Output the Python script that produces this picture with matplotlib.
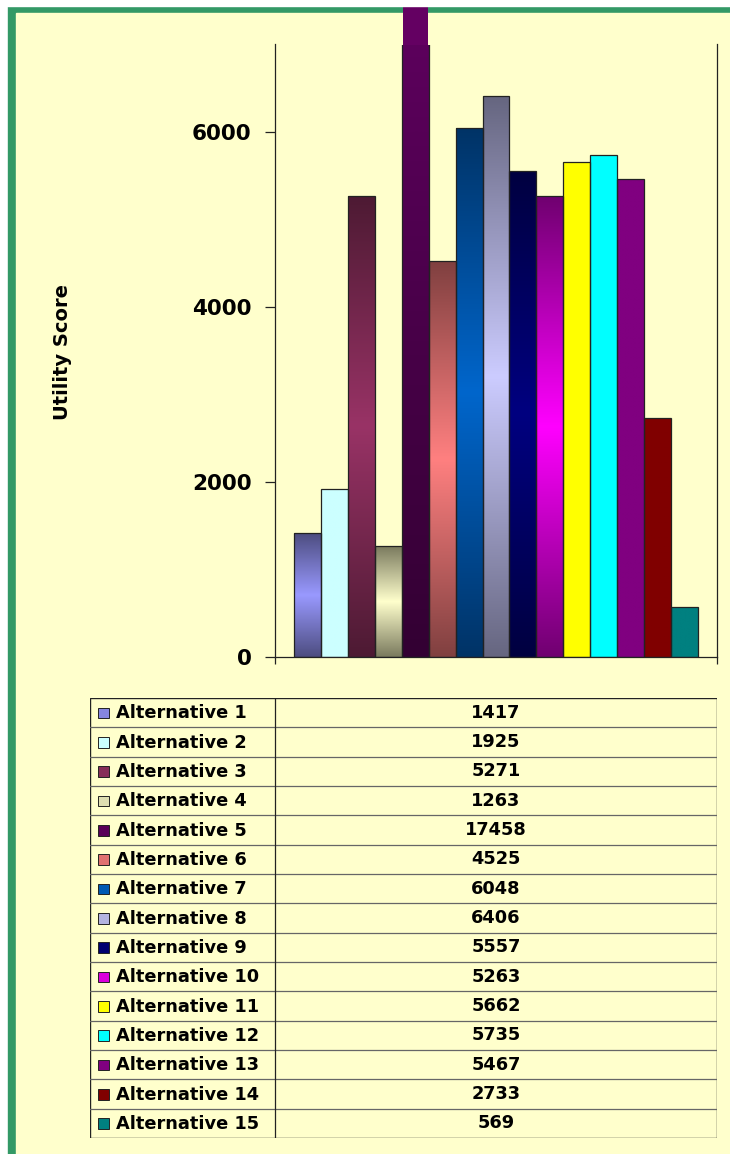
import numpy as np
import matplotlib
matplotlib.use("Agg")
import matplotlib.pyplot as plt
from matplotlib.colors import to_rgb
from matplotlib.patches import Rectangle

# ---- data ----
labels = [f"Alternative {i}" for i in range(1, 16)]
scores = [1417, 1925, 5271, 1263, 17458, 4525, 6048, 6406,
          5557, 5263, 5662, 5735, 5467, 2733, 569]
light_colors = ["#9999FF", "#CCFFFF", "#993366", "#FFFFCC", "#660066",
                "#FF8080", "#0066CC", "#CCCCFF", "#000080", "#FF00FF",
                "#FFFF00", "#00FFFF", "#800080", "#800000", "#008080"]
dark_colors = ["#4D4D80", "#CCFFFF", "#4D1A33", "#7A7A5E", "#330033",
               "#804040", "#003366", "#666680", "#000040", "#700070",
               "#FFFF00", "#00FFFF", "#800080", "#800000", "#008080"]
y_ticks = [0, 2000, 4000, 6000]
y_max = 7000

BG = "#FFFFCC"
GREEN = "#339966"
W, H = 730, 1154

plt.rcParams["font.family"] = ["DejaVu Sans"]
plt.rcParams["font.weight"] = "bold"

fig = plt.figure(figsize=(W / 100, H / 100), dpi=100, facecolor="white")


def px(x0, y0, x1, y1):
    # pixel box (top-left origin) -> figure fraction rect
    return [x0 / W, 1 - y1 / H, (x1 - x0) / W, (y1 - y0) / H]


# ---- frame: yellow panel with green left/top border ----
fig.patches.append(Rectangle((8 / W, 0), (W - 8) / W, 1 - 6 / H,
                             transform=fig.transFigure, color=GREEN, zorder=-3))
fig.patches.append(Rectangle((16 / W, 0), (W - 16) / W, 1 - 13 / H,
                             transform=fig.transFigure, color=BG, zorder=-2))

# ---- bar chart ----
ax = fig.add_axes(px(275, 44.5, 717, 657))
ax.patch.set_visible(False)

x = np.arange(len(scores))
bars = ax.bar(x, scores, width=1.0, facecolor="none",
              edgecolor="#222222", linewidth=0.9, zorder=3)

for xi, h, lc, dc, bar in zip(x, scores, light_colors, dark_colors, bars):
    t = np.abs(np.linspace(-1, 1, 256))[:, None]
    grad = np.array(to_rgb(lc)) * (1 - t[..., None]) + np.array(to_rgb(dc)) * t[..., None]
    im = ax.imshow(grad, extent=[xi - 0.5, xi + 0.5, 0, h], origin="lower",
                   aspect="auto", interpolation="bilinear", zorder=2)
    # clip to the bar shape while keeping the axes clip box
    im.set_clip_path(bar.get_path(), bar.get_transform())
    if h > y_max:
        # part that spills over the plot area (no outline)
        ax.bar(xi, h - y_max * 0.99, bottom=y_max * 0.99, width=0.95,
               color="#640062", linewidth=0, clip_on=False, zorder=1)

ax.set_xlim(-1.22, len(scores) - 1 + 1.22)
ax.set_ylim(0, y_max)

ax.spines["top"].set_visible(False)
for side in ["left", "right", "bottom"]:
    ax.spines[side].set_color("#222222")
    ax.spines[side].set_linewidth(0.9)

ax.set_yticks(y_ticks)
ax.set_yticklabels([str(v) for v in y_ticks], fontsize=15.5, fontweight="bold")
ax.tick_params(axis="y", direction="out", length=7, width=0.9, pad=10,
               color="#222222")
ax.set_xticks(ax.get_xlim())
ax.set_xticklabels([])
ax.tick_params(axis="x", direction="out", length=5, width=0.9, color="#222222")

fig.text(62 / W, 1 - 352 / H, "Utility Score", rotation=90, ha="center",
         va="center", fontsize=14, fontweight="bold")

# white strip above the frame (cuts the tall bar)
fig.patches.append(Rectangle((0, 1 - 6 / H), 1, 6 / H,
                             transform=fig.transFigure, color="white", zorder=10))

# ---- data table ----
tx0, tx1, split = 90, 717, 275
tab = fig.add_axes(px(tx0, 698, tx1, 1138))
tab.set_xlim(tx0, tx1)
tab.set_ylim(len(labels), 0)
tab.axis("off")
tab.patch.set_visible(False)

n = len(labels)
for r in range(1, n):
    tab.plot([tx0, tx1], [r, r], color="#666666", lw=0.9)
tab.plot([split, split], [0, n], color="#222222", lw=0.9)
tab.add_patch(Rectangle((tx0, 0), tx1 - tx0, n, fill=False,
                        edgecolor="#222222", lw=1.0))

for r, (lab, val, lc, dc) in enumerate(zip(labels, scores, light_colors, dark_colors)):
    sw = np.array(to_rgb(lc)) * 0.75 + np.array(to_rgb(dc)) * 0.25
    tab.add_patch(Rectangle((97.5, r + 0.33), 11, 0.36, facecolor=sw,
                            edgecolor="#222222", lw=0.7))
    tab.text(116, r + 0.52, lab, ha="left", va="center", fontsize=12.8,
             fontweight="bold")
    tab.text((split + tx1) / 2, r + 0.5, str(val), ha="center", va="center",
             fontsize=12.8, fontweight="bold")

fig.savefig("out.png", dpi=100, facecolor="white")
